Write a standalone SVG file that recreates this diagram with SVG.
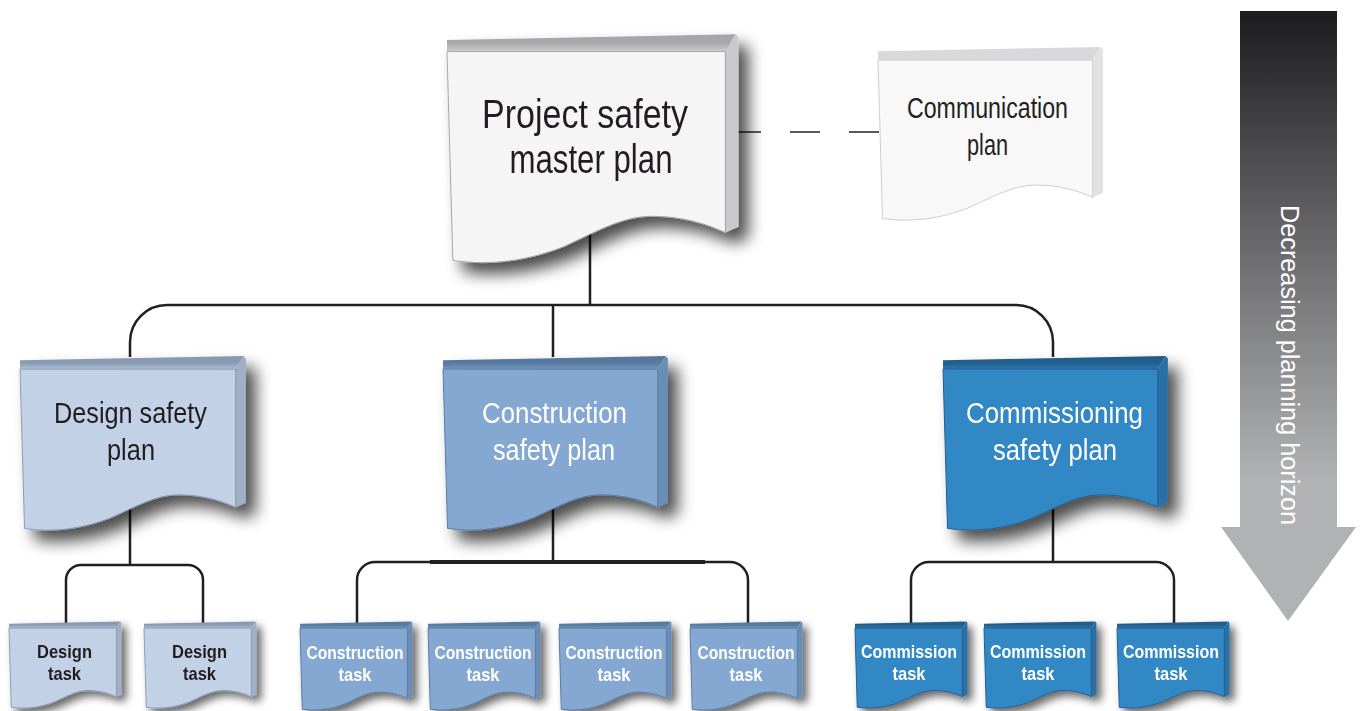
<svg xmlns="http://www.w3.org/2000/svg" xmlns:xlink="http://www.w3.org/1999/xlink" width="1361" height="711" viewBox="0 0 1361 711">
<style>
.bg{fill:#ffffff}
.conn{fill:none;stroke:#231f20;stroke-width:2.5}
.dash{fill:none;stroke:#58595b;stroke-width:2.2;stroke-dasharray:30 29}
.t{font-family:"Liberation Sans Narrow","Liberation Sans",Arial,sans-serif;text-anchor:middle}
.big{font-size:40px;fill:#231f20}
.mid{font-size:29px}
.task{font-size:19px;font-weight:bold}
.dark{fill:#231f20}
.light{fill:#ffffff}
.m-top{fill:url(#gTopM)} .m-side{fill:#c9c9cb} .m-face{fill:#f5f5f5;stroke:#a7a7a9}
.c-top{fill:#d9d9db} .c-side{fill:#e2e2e3} .c-face{fill:#f8f8f8;stroke:#cfcfd0}
.d-top{fill:url(#gTopD)} .d-side{fill:#9eafc6} .d-face{fill:#c2d1e6;stroke:#8c9db5}
.k-top{fill:url(#gTopK)} .k-side{fill:#6b8db6} .k-face{fill:#84a8d1;stroke:#5b7ca3}
.s-top{fill:url(#gTopS)} .s-side{fill:#2a6fa5} .s-face{fill:#3388c5;stroke:#235f90}
</style>
<defs>
<linearGradient id="gTopM" x1="0" y1="0" x2="0" y2="1"><stop offset="0" stop-color="#a5a5a7"/><stop offset="0.55" stop-color="#a9a9ab"/><stop offset="1" stop-color="#cfcfd0"/></linearGradient>
<linearGradient id="gTopD" x1="0" y1="0" x2="0" y2="1"><stop offset="0" stop-color="#8698b0"/><stop offset="0.55" stop-color="#8a9cb3"/><stop offset="1" stop-color="#aebfd6"/></linearGradient>
<linearGradient id="gTopK" x1="0" y1="0" x2="0" y2="1"><stop offset="0" stop-color="#55769c"/><stop offset="0.55" stop-color="#5a7ba1"/><stop offset="1" stop-color="#7395bf"/></linearGradient>
<linearGradient id="gTopS" x1="0" y1="0" x2="0" y2="1"><stop offset="0" stop-color="#1f5b88"/><stop offset="0.55" stop-color="#21608f"/><stop offset="1" stop-color="#2c77b0"/></linearGradient>
<linearGradient id="gArrow" gradientUnits="userSpaceOnUse" x1="0" y1="11" x2="0" y2="480"><stop offset="0" stop-color="#1c1c1e"/><stop offset="0.5" stop-color="#6a6a6c"/><stop offset="1" stop-color="#b1b2b4"/></linearGradient>
<filter id="sh" x="-10%" y="-10%" width="135%" height="135%"><feGaussianBlur in="SourceAlpha" stdDeviation="8"/><feOffset dx="10" dy="11"/><feComponentTransfer><feFuncA type="linear" slope="0.7"/></feComponentTransfer><feMerge><feMergeNode/><feMergeNode in="SourceGraphic"/></feMerge></filter>
<filter id="shs" x="-10%" y="-10%" width="135%" height="135%"><feGaussianBlur in="SourceAlpha" stdDeviation="4"/><feOffset dx="5" dy="5"/><feComponentTransfer><feFuncA type="linear" slope="0.6"/></feComponentTransfer><feMerge><feMergeNode/><feMergeNode in="SourceGraphic"/></feMerge></filter>
<path id="top" d="M0,3 L98.5,0.5 L95,8 L0,8 Z"/>
<path id="side" d="M95,8 L98.5,0.5 L99.5,2 L99.5,83.5 L95,86 Z"/>
<path id="face" vector-effect="non-scaling-stroke" stroke-width="1" d="M0,8 L95,8 L95,86 C88,82 80,79 70,79 C60,79 52,85 40,92 C28,98 15,100.5 2,98 Z"/>
</defs>
<rect class="bg" x="0" y="0" width="1361" height="711"/>

<g id="connectors">
<path class="dash" d="M731,132 H879"/>
<path class="conn" d="M590,230 V305"/>
<path class="conn" d="M130,357 V342 A37,37 0 0 1 167,305 H1016 A37,37 0 0 1 1053,342 V357"/>
<path class="conn" d="M553,305 V357"/>
<path class="conn" d="M130,505 V565"/>
<path class="conn" d="M66,624 V580 A15,15 0 0 1 81,565 H188 A15,15 0 0 1 203,580 V624"/>
<path class="conn" d="M553,505 V562"/>
<path class="conn" d="M357,624 V580 A18,18 0 0 1 375,562 H730 A18,18 0 0 1 748,580 V624"/>
<path class="conn" d="M430,562 H705" style="stroke-width:4"/>
<path class="conn" d="M1053,505 V562"/>
<path class="conn" d="M911,624 V580 A18,18 0 0 1 929,562 H1156 A18,18 0 0 1 1174,580 V624"/>
</g>

<g id="node-master" filter="url(#sh)">
<g transform="translate(447,33) scale(2.93,2.32)"><use href="#top" class="m-top"/><use href="#side" class="m-side"/><use href="#face" class="m-face"/></g>
<text class="t big" x="585" y="128" textLength="206" lengthAdjust="spacingAndGlyphs">Project safety</text>
<text class="t big" x="591" y="173" textLength="163" lengthAdjust="spacingAndGlyphs">master plan</text>
</g>

<g id="node-communication">
<g transform="translate(878,46) scale(2.26,1.76)"><use href="#top" class="c-top"/><use href="#side" class="c-side"/><use href="#face" class="c-face"/></g>
<text class="t mid dark" x="987.5" y="118" textLength="161" lengthAdjust="spacingAndGlyphs">Communication</text>
<text class="t mid dark" x="987.5" y="155" textLength="41" lengthAdjust="spacingAndGlyphs">plan</text>
</g>

<g id="node-design-plan" filter="url(#sh)">
<g transform="translate(20,355) scale(2.27,1.77)"><use href="#top" class="d-top"/><use href="#side" class="d-side"/><use href="#face" class="d-face"/></g>
<text class="t mid dark" x="130.5" y="423" textLength="153" lengthAdjust="spacingAndGlyphs">Design safety</text>
<text class="t mid dark" x="131" y="460" textLength="48" lengthAdjust="spacingAndGlyphs">plan</text>
</g>

<g id="node-construction-plan" filter="url(#sh)">
<g transform="translate(443,355) scale(2.26,1.77)"><use href="#top" class="k-top"/><use href="#side" class="k-side"/><use href="#face" class="k-face"/></g>
<text class="t mid light" x="554.5" y="423" textLength="145" lengthAdjust="spacingAndGlyphs">Construction</text>
<text class="t mid light" x="554" y="460" textLength="122" lengthAdjust="spacingAndGlyphs">safety plan</text>
</g>

<g id="node-commissioning-plan" filter="url(#sh)">
<g transform="translate(943,355) scale(2.26,1.77)"><use href="#top" class="s-top"/><use href="#side" class="s-side"/><use href="#face" class="s-face"/></g>
<text class="t mid light" x="1054.5" y="423" textLength="177" lengthAdjust="spacingAndGlyphs">Commissioning</text>
<text class="t mid light" x="1055" y="460" textLength="124" lengthAdjust="spacingAndGlyphs">safety plan</text>
</g>

<g id="node-design-task-1" filter="url(#shs)">
<g transform="translate(9,621) scale(1.13,0.88)"><use href="#top" class="d-top"/><use href="#side" class="d-side"/><use href="#face" class="d-face"/></g>
<text class="t task dark" x="64.5" y="658" textLength="55" lengthAdjust="spacingAndGlyphs">Design</text>
<text class="t task dark" x="64.5" y="680" textLength="33" lengthAdjust="spacingAndGlyphs">task</text>
</g>
<g id="node-design-task-2" filter="url(#shs)">
<g transform="translate(144,621) scale(1.13,0.88)"><use href="#top" class="d-top"/><use href="#side" class="d-side"/><use href="#face" class="d-face"/></g>
<text class="t task dark" x="199.5" y="658" textLength="55" lengthAdjust="spacingAndGlyphs">Design</text>
<text class="t task dark" x="199.5" y="680" textLength="33" lengthAdjust="spacingAndGlyphs">task</text>
</g>

<g id="node-construction-task-1" filter="url(#shs)">
<g transform="translate(300,621) scale(1.13,0.9)"><use href="#top" class="k-top"/><use href="#side" class="k-side"/><use href="#face" class="k-face"/></g>
<text class="t task light" x="355" y="659" textLength="97" lengthAdjust="spacingAndGlyphs">Construction</text>
<text class="t task light" x="355" y="681" textLength="33" lengthAdjust="spacingAndGlyphs">task</text>
</g>
<g id="node-construction-task-2" filter="url(#shs)">
<g transform="translate(428,621) scale(1.13,0.9)"><use href="#top" class="k-top"/><use href="#side" class="k-side"/><use href="#face" class="k-face"/></g>
<text class="t task light" x="483" y="659" textLength="97" lengthAdjust="spacingAndGlyphs">Construction</text>
<text class="t task light" x="483" y="681" textLength="33" lengthAdjust="spacingAndGlyphs">task</text>
</g>
<g id="node-construction-task-3" filter="url(#shs)">
<g transform="translate(559,621) scale(1.13,0.9)"><use href="#top" class="k-top"/><use href="#side" class="k-side"/><use href="#face" class="k-face"/></g>
<text class="t task light" x="614" y="659" textLength="97" lengthAdjust="spacingAndGlyphs">Construction</text>
<text class="t task light" x="614" y="681" textLength="33" lengthAdjust="spacingAndGlyphs">task</text>
</g>
<g id="node-construction-task-4" filter="url(#shs)">
<g transform="translate(690,621) scale(1.13,0.9)"><use href="#top" class="k-top"/><use href="#side" class="k-side"/><use href="#face" class="k-face"/></g>
<text class="t task light" x="746" y="659" textLength="97" lengthAdjust="spacingAndGlyphs">Construction</text>
<text class="t task light" x="746" y="681" textLength="33" lengthAdjust="spacingAndGlyphs">task</text>
</g>

<g id="node-commission-task-1" filter="url(#shs)">
<g transform="translate(855,621) scale(1.13,0.88)"><use href="#top" class="s-top"/><use href="#side" class="s-side"/><use href="#face" class="s-face"/></g>
<text class="t task light" x="909" y="658" textLength="96" lengthAdjust="spacingAndGlyphs">Commission</text>
<text class="t task light" x="909" y="680" textLength="33" lengthAdjust="spacingAndGlyphs">task</text>
</g>
<g id="node-commission-task-2" filter="url(#shs)">
<g transform="translate(984,621) scale(1.13,0.88)"><use href="#top" class="s-top"/><use href="#side" class="s-side"/><use href="#face" class="s-face"/></g>
<text class="t task light" x="1038" y="658" textLength="96" lengthAdjust="spacingAndGlyphs">Commission</text>
<text class="t task light" x="1038" y="680" textLength="33" lengthAdjust="spacingAndGlyphs">task</text>
</g>
<g id="node-commission-task-3" filter="url(#shs)">
<g transform="translate(1117,621) scale(1.13,0.88)"><use href="#top" class="s-top"/><use href="#side" class="s-side"/><use href="#face" class="s-face"/></g>
<text class="t task light" x="1171" y="658" textLength="96" lengthAdjust="spacingAndGlyphs">Commission</text>
<text class="t task light" x="1171" y="680" textLength="33" lengthAdjust="spacingAndGlyphs">task</text>
</g>

<g id="horizon-arrow">
<polygon points="1240,11 1337,11 1337,527 1356,527 1288,621 1221,527 1240,527" fill="url(#gArrow)"/>
<text class="t light" transform="translate(1281,365) rotate(90)" x="0" y="0" style="font-size:25px" textLength="320" lengthAdjust="spacingAndGlyphs">Decreasing planning horizon</text>
</g>
</svg>
